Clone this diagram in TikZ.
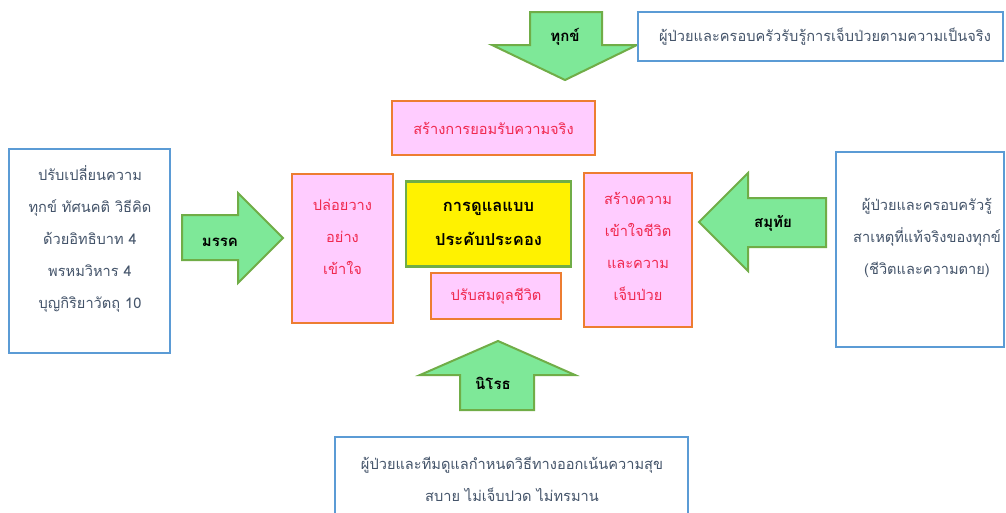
\documentclass[tikz,border=0pt]{standalone}
\usepackage{fontspec}
\newfontfamily\thai[Script=Thai]{Loma}
\definecolor{pinkfill}{HTML}{FFCCFF}
\definecolor{orangeline}{HTML}{ED7D31}
\definecolor{redtext}{HTML}{F0284F}
\definecolor{blueline}{HTML}{5B9BD5}
\definecolor{greytext}{HTML}{44546A}
\definecolor{greenfill}{HTML}{7EE898}
\definecolor{greenline}{HTML}{70AD47}
\begin{document}
\begin{tikzpicture}[x=1pt,y=-1pt,
  bluebox/.style={draw=blueline,line width=2.5pt,fill=white,inner sep=0pt},
  pinkbox/.style={draw=orangeline,line width=2.5pt,fill=pinkfill,inner sep=0pt},
  yellowbox/.style={draw=greenline,line width=2.5pt,fill=yellow,inner sep=0pt},
  bluetext/.style={text=greytext,align=center,font=\thai\fontsize{14.6}{32}\selectfont},
  redlabel/.style={text=redtext,align=center,font=\thai\fontsize{14.6}{32}\selectfont},
  centertext/.style={text=black,align=center,font=\thai\bfseries\fontsize{16.5}{34}\selectfont},
  blockarrow/.style={draw=greenline,line width=2pt,fill=greenfill,line join=miter},
  arrowlabel/.style={text=black,font=\thai\bfseries\fontsize{15}{16}\selectfont}
]
\useasboundingbox[fill=white] (0,0) rectangle (1006,512);

% block arrows
\draw[blockarrow] (530,12) -- (602,12) -- (602,45) -- (637,45) -- (565,80) -- (492,45) -- (530,45) -- cycle;
\node[arrowlabel] (dukkha) at (565,37) {ทุกข์};

\draw[blockarrow] (182,215) -- (238,215) -- (238,193) -- (283,238) -- (238,283) -- (238,260) -- (182,260) -- cycle;
\node[arrowlabel] (magga) at (220,242) {มรรค};

\draw[blockarrow] (826,198) -- (748,198) -- (748,173) -- (699,222) -- (748,271) -- (748,247) -- (826,247) -- cycle;
\node[arrowlabel] (samudaya) at (773,223) {สมุทัย};

\draw[blockarrow] (460,410) -- (460,375) -- (420,375) -- (498,341) -- (575,375) -- (534,375) -- (534,410) -- cycle;
\node[arrowlabel] (nirodha) at (493,383) {นิโรธ};

% blue boxes
\node[bluebox,minimum width=365pt,minimum height=49pt] (topbox) at (820.5,36.5) {};
\node[bluetext] (toptext) at (825,37) {ผู้ป่วยและครอบครัวรับรู้การเจ็บป่วยตามความเป็นจริง};

\node[bluebox,minimum width=161pt,minimum height=204pt] (leftbox) at (89.5,251) {};
\node[bluetext] (lefttext) at (90,239) {ปรับเปลี่ยนความ\\ทุกข์ ทัศนคติ วิธีคิด\\ด้วยอิทธิบาท 4\\พรหมวิหาร 4\\บุญกิริยาวัตถุ 10};

\node[bluebox,minimum width=168pt,minimum height=195pt] (rightbox) at (920,249.5) {};
\node[bluetext] (righttext) at (927,238) {ผู้ป่วยและครอบครัวรู้\\สาเหตุที่แท้จริงของทุกข์\\(ชีวิตและความตาย)};

\node[bluebox,minimum width=353pt,minimum height=100pt] (bottombox) at (511.5,487) {};
\node[bluetext] (bottomtext) at (512,479) {ผู้ป่วยและทีมดูแลกำหนดวิธีทางออกเน้นความสุข\\สบาย ไม่เจ็บปวด ไม่ทรมาน};

% pink boxes
\node[pinkbox,minimum width=203pt,minimum height=54pt,redlabel] (accept) at (493.5,128) {สร้างการยอมรับความจริง};
\node[pinkbox,minimum width=101pt,minimum height=149pt] (letgo) at (342.5,248.5) {};
\node[redlabel] (letgotext) at (342.5,236.5) {ปล่อยวาง\\อย่าง\\เข้าใจ};
\node[pinkbox,minimum width=130pt,minimum height=46pt,redlabel] (balance) at (496,296) {ปรับสมดุลชีวิต};
\node[pinkbox,minimum width=108pt,minimum height=154pt] (understand) at (638,250) {};
\node[redlabel] (understandtext) at (638,246.5) {สร้างความ\\เข้าใจชีวิต\\และความ\\เจ็บป่วย};

% centre
\node[yellowbox,minimum width=165pt,minimum height=85pt,centertext] (centre) at (488.5,224) {การดูแลแบบ\\ประคับประคอง};
\end{tikzpicture}
\end{document}
